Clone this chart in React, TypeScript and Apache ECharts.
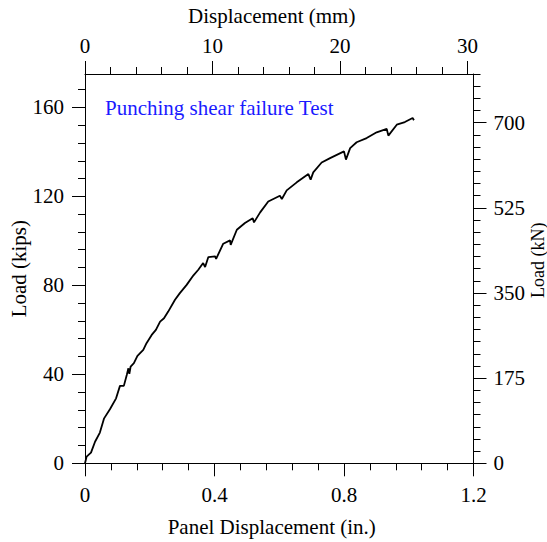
import React, { useEffect, useRef } from "react";
import * as echarts from "echarts";

// Panel displacement (in.) and load (kips)
const dispIn = [
  0, 0.005, 0.0185, 0.031, 0.046, 0.059, 0.077, 0.096, 0.108, 0.12, 0.129, 0.134, 0.137, 0.141,
  0.151, 0.162, 0.18, 0.19, 0.206, 0.219, 0.232, 0.244, 0.257, 0.278, 0.293, 0.314, 0.335, 0.35,
  0.365, 0.371, 0.381, 0.402, 0.405, 0.427, 0.448, 0.45, 0.469, 0.494, 0.518, 0.522, 0.541, 0.566,
  0.602, 0.608, 0.623, 0.654, 0.69, 0.697, 0.705, 0.731, 0.757, 0.8, 0.806, 0.819, 0.839, 0.87,
  0.901, 0.932, 0.937, 0.963, 0.988, 1.012, 1.016,
];
const loadKips = [
  0, 3, 4.8, 9.7, 13.8, 20.2, 24.3, 29.2, 34.8, 34.8, 39.7, 42.7, 40.2, 43.5,
  45, 48.3, 51, 54, 57.7, 60, 63.7, 65.2, 68.2, 73.5, 76.5, 80.2, 84.5, 87,
  90, 88.2, 92.7, 93, 91.9, 98.7, 100.2, 98.2, 105, 108, 110.2, 108.3, 112.8, 117.7,
  120.3, 118.8, 122.7, 126.3, 130, 127.5, 130.8, 135.2, 137.2, 140.2, 136.5, 141.7, 144.3, 146.2,
  148.8, 150.3, 147.3, 152.2, 153.4, 155.2, 154.2,
];

// Tick labels
const bottomTicks = [0, 0.4, 0.8, 1.2];
const topTicksMm = [0, 10, 20, 30];
const leftTicks = [0, 40, 80, 120, 160];
const rightTicksKN = [0, 175, 350, 525, 700];

const minorList = (step: number, max: number, majorStep: number) => {
  const out: number[] = [];
  for (let i = 1; i * step <= max + 1e-9; i++) {
    const v = i * step;
    if (Math.abs(v / majorStep - Math.round(v / majorStep)) > 1e-6) out.push(v);
  }
  return out;
};

const FONT = "Liberation Serif";
const BLACK = "#000";

export default function App() {
  const ref = useRef<HTMLDivElement>(null);
  useEffect(() => {
    if (!ref.current) return;
    const chart = echarts.init(ref.current, undefined, { renderer: "svg" });
    const lineStyle = { color: BLACK, width: 1 };
    const labelBase = { color: BLACK, fontSize: 21, fontFamily: FONT };
    const nameStyle = { color: BLACK, fontSize: 21, fontFamily: FONT };
    const common = {
      type: "value" as const,
      splitLine: { show: false },
      minorSplitLine: { show: false },
      nameMoveOverlap: false,
    };
    chart.setOption({
      animation: false,
      backgroundColor: "#fff",
      grid: {
        left: 85,
        right: 73.5,
        top: 74,
        bottom: 78.7,
        containLabel: false,
        outerBoundsMode: "none",
      },
      xAxis: [
        {
          ...common,
          position: "bottom",
          min: 0,
          max: 1.2,
          interval: 0.4,
          axisLine: { show: true, onZero: false, lineStyle },
          axisTick: { show: true, inside: false, length: 13, lineStyle, customValues: bottomTicks },
          minorTick: { show: true, splitNumber: 5, length: 7, lineStyle },
          axisLabel: { ...labelBase, margin: 21, customValues: bottomTicks, formatter: (v: number) => String(+v.toFixed(2)) },
          name: "Panel Displacement (in.)",
          nameLocation: "middle",
          nameGap: 53,
          nameTextStyle: { ...nameStyle, padding: [0, 15, 0, 0] },
        },
        {
          ...common,
          position: "top",
          min: 0,
          max: 30.48,
          axisLine: { show: true, onZero: false, lineStyle },
          axisTick: { show: true, inside: false, length: 13, lineStyle, customValues: topTicksMm },
          minorTick: { show: false },
          axisLabel: { ...labelBase, margin: 18, customValues: topTicksMm },
          name: "Displacement (mm)",
          nameLocation: "middle",
          nameGap: 48,
          nameTextStyle: { ...nameStyle, padding: [0, 15, 0, 0] },
        },
        {
          ...common,
          position: "top",
          min: 0,
          max: 30.48,
          axisLine: { show: false, onZero: false },
          axisTick: { show: true, inside: false, length: 7, lineStyle, customValues: minorList(2, 30, 10) },
          minorTick: { show: false },
          axisLabel: { show: false },
        },
      ],
      yAxis: [
        {
          ...common,
          position: "left",
          min: 0,
          max: 175,
          axisLine: { show: true, onZero: false, lineStyle },
          axisTick: { show: true, inside: false, length: 13, lineStyle, customValues: leftTicks },
          minorTick: { show: false },
          axisLabel: { ...labelBase, margin: 21, customValues: leftTicks },
          name: "Load (kips)",
          nameLocation: "middle",
          nameGap: 56,
          nameTextStyle: nameStyle,
        },
        {
          ...common,
          position: "left",
          min: 0,
          max: 175,
          axisLine: { show: false, onZero: false },
          axisTick: { show: true, inside: false, length: 7, lineStyle, customValues: minorList(8, 168, 40) },
          minorTick: { show: false },
          axisLabel: { show: false },
        },
        {
          ...common,
          position: "right",
          min: 0,
          max: 800,
          axisLine: { show: true, onZero: false, lineStyle },
          axisTick: { show: true, inside: false, length: 13, lineStyle, customValues: rightTicksKN },
          minorTick: { show: false },
          axisLabel: { ...labelBase, margin: 20, customValues: rightTicksKN },
          name: "Load (kN)",
          nameLocation: "middle",
          nameGap: 55,
          nameTextStyle: { ...nameStyle, fontSize: 18, padding: [0, 0, 0, 17] },
        },
        {
          ...common,
          position: "right",
          min: 0,
          max: 800,
          axisLine: { show: false, onZero: false },
          axisTick: { show: true, inside: false, length: 7, lineStyle, customValues: minorList(25, 800, 175) },
          minorTick: { show: false },
          axisLabel: { show: false },
        },
      ],
      graphic: [
        {
          type: "text",
          left: 105,
          top: 97,
          style: {
            text: "Punching shear failure Test",
            fill: "#1a1aff",
            fontSize: 21,
            fontFamily: FONT,
          },
        },
      ],
      series: [
        {
          type: "line",
          xAxisIndex: 0,
          yAxisIndex: 0,
          data: dispIn.map((x, i) => [x, loadKips[i]]),
          showSymbol: false,
          symbol: "none",
          lineStyle: { color: BLACK, width: 1.8 },
          clip: false,
        },
      ],
    });
    return () => chart.dispose();
  }, []);
  return (
    <div
      ref={ref}
      style={{ position: "fixed", left: 0, top: 0, width: 547, height: 542, background: "#fff" }}
    />
  );
}
